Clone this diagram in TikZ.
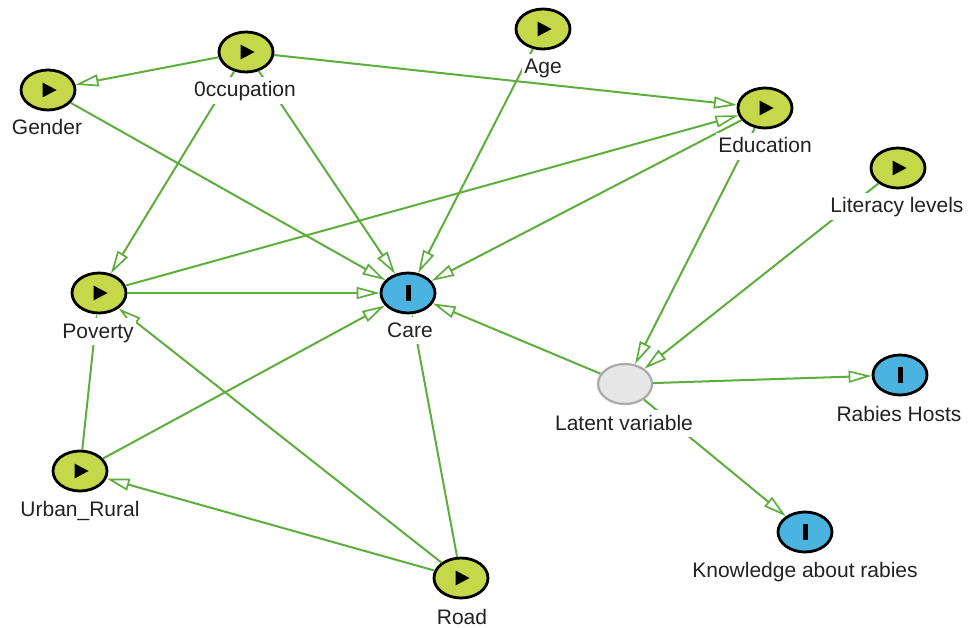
\documentclass[tikz,border=0pt]{standalone}
\usepackage{fontspec}
\setmainfont{Liberation Sans}
\usetikzlibrary{shapes.geometric,arrows.meta,calc}
\definecolor{edgegreen}{HTML}{5DAE3C}
\definecolor{expfill}{HTML}{C5D84A}
\definecolor{outfill}{HTML}{4AB3E0}
\definecolor{latfill}{HTML}{E6E6E6}
\definecolor{latdraw}{HTML}{AAAAAA}
\definecolor{txt}{HTML}{222222}
\begin{document}
\begin{tikzpicture}[x=1pt,y=-1pt,
  var/.style={ellipse, draw=black, line width=2.8pt, minimum width=54pt, minimum height=40pt, inner sep=0pt},
  expo/.style={var, fill=expfill, path picture={\fill[black] ($(path picture bounding box.center)+(-5.5pt,-7.5pt)$) -- ++(14pt,7.5pt) -- ++(-14pt,7.5pt) -- cycle;}},
  outc/.style={var, fill=outfill, path picture={\fill[black] ($(path picture bounding box.center)+(-2.5pt,-8pt)$) rectangle ++(5pt,16pt);}},
  latent/.style={ellipse, draw=latdraw, fill=latfill, line width=2.2pt, minimum width=54pt, minimum height=40pt, inner sep=0pt},
  arr/.style={draw=edgegreen, line width=2pt, -{Triangle[open, length=23pt, width=12pt, line width=1.7pt]}},
  lbl/.style={fill=white, inner sep=2pt, anchor=base, text height=18pt, text depth=5pt, text=txt, font=\fontsize{21}{25}\selectfont}
]
\useasboundingbox (0,0) rectangle (974,628);
\fill[white] (0,0) rectangle (974,628);

% variables
\node[expo] (gender) at (48,90) {};
\node[expo] (occ) at (246,52) {};
\node[expo] (age) at (543,29) {};
\node[expo] (edu) at (765,108) {};
\node[expo] (lit) at (898,168) {};
\node[expo] (pov) at (99,293) {};
\node[outc] (care) at (408,293) {};
\node[latent] (lat) at (625,384) {};
\node[outc] (hosts) at (900,375) {};
\node[outc] (know) at (805,532) {};
\node[expo] (urban) at (80,471) {};
\node[expo] (road) at (461,578) {};

% connectors
\draw[arr] (occ) -- (gender);
\draw[arr] (occ) -- (edu);
\draw[arr] (occ) -- (pov);
\draw[arr] (occ) -- (care);
\draw[arr] (gender) -- (care);
\draw[arr] (age) -- (care);
\draw[arr] (edu) -- (care);
\draw[arr] (pov) -- (edu);
\draw[arr] (pov) -- (care);
\draw[arr] (edu) -- (lat);
\draw[arr] (lit) -- (lat);
\draw[arr] (lat) -- (care);
\draw[arr] (lat) -- (hosts);
\draw[arr] (lat) -- (know);
\draw[arr] (urban) -- (pov);
\draw[arr] (urban) -- (care);
\draw[arr] (road) -- (urban);
\draw[arr] (road) -- (pov);
\draw[arr] (road) -- (care);

% labels
\node[lbl] (gender-l) at (47,135) {Gender};
\node[lbl] (occ-l) at (245,97) {0ccupation};
\node[lbl] (age-l) at (543,74) {Age};
\node[lbl] (edu-l) at (765,153) {Education};
\node[lbl] (lit-l) at (897,213) {Literacy levels};
\node[lbl] (pov-l) at (98,338) {Poverty};
\node[lbl] (care-l) at (410,337) {Care};
\node[lbl] (lat-l) at (624,430) {Latent variable};
\node[lbl] (hosts-l) at (899,421) {Rabies Hosts};
\node[lbl] (know-l) at (805,577) {Knowledge about rabies};
\node[lbl] (urban-l) at (80,516) {Urban\_Rural};
\node[lbl] (road-l) at (462,624) {Road};
\end{tikzpicture}
\end{document}
